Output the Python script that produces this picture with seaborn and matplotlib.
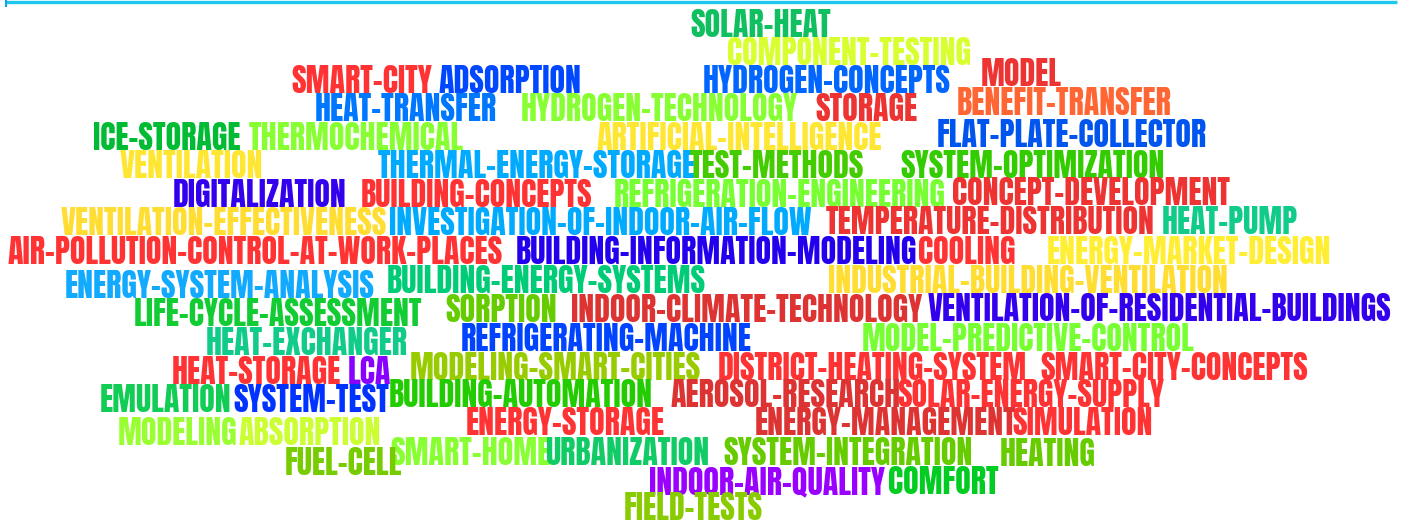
import matplotlib
matplotlib.use("Agg")
import matplotlib.pyplot as plt
import seaborn as sns
from matplotlib.textpath import TextPath
from matplotlib.font_manager import FontProperties

# ---- data: word-cloud terms, their placement (left x, baseline y in px) and colour ----
words = [
    "SOLAR-HEAT", "COMPONENT-TESTING",
    "SMART-CITY", "ADSORPTION", "HYDROGEN-CONCEPTS", "MODEL",
    "HEAT-TRANSFER", "HYDROGEN-TECHNOLOGY", "STORAGE", "BENEFIT-TRANSFER",
    "ICE-STORAGE", "THERMOCHEMICAL", "ARTIFICIAL-INTELLIGENCE", "FLAT-PLATE-COLLECTOR",
    "VENTILATION", "THERMAL-ENERGY-STORAGE", "TEST-METHODS", "SYSTEM-OPTIMIZATION",
    "DIGITALIZATION", "BUILDING-CONCEPTS", "REFRIGERATION-ENGINEERING", "CONCEPT-DEVELOPMENT",
    "VENTILATION-EFFECTIVENESS", "INVESTIGATION-OF-INDOOR-AIR-FLOW", "TEMPERATURE-DISTRIBUTION", "HEAT-PUMP",
    "AIR-POLLUTION-CONTROL-AT-WORK-PLACES", "BUILDING-INFORMATION-MODELING", "COOLING", "ENERGY-MARKET-DESIGN",
    "ENERGY-SYSTEM-ANALYSIS", "BUILDING-ENERGY-SYSTEMS", "INDUSTRIAL-BUILDING-VENTILATION",
    "LIFE-CYCLE-ASSESSMENT", "SORPTION", "INDOOR-CLIMATE-TECHNOLOGY", "VENTILATION-OF-RESIDENTIAL-BUILDINGS",
    "HEAT-EXCHANGER", "REFRIGERATING-MACHINE", "MODEL-PREDICTIVE-CONTROL",
    "HEAT-STORAGE", "LCA", "MODELING-SMART-CITIES", "DISTRICT-HEATING-SYSTEM", "SMART-CITY-CONCEPTS",
    "EMULATION", "SYSTEM-TEST", "BUILDING-AUTOMATION", "AEROSOL-RESEARCH", "SOLAR-ENERGY-SUPPLY",
    "ENERGY-STORAGE", "ENERGY-MANAGEMENT", "SIMULATION",
    "MODELING", "ABSORPTION",
    "SMART-HOME", "URBANIZATION", "SYSTEM-INTEGRATION", "HEATING",
    "FUEL-CELL",
    "INDOOR-AIR-QUALITY", "COMFORT",
    "FIELD-TESTS",
]
x_left = [
    690, 727,
    291, 439, 703, 981,
    315, 521, 815, 957,
    93, 249, 597, 937,
    120, 378, 690, 900,
    173, 361, 614, 952,
    61, 389, 826, 1162,
    8, 516, 918, 1047,
    65, 387, 828,
    134, 445, 571, 928,
    206, 461, 862,
    172, 348, 410, 718, 1040,
    100, 233, 389, 671, 897,
    466, 755, 1012,
    118, 239,
    390, 545, 723, 1000,
    285,
    649, 888,
    624,
]
y_base = [
    37, 65,
    93, 93, 93, 86,
    121, 121, 121, 115,
    150, 150, 150, 147,
    178, 178, 178, 178,
    207, 207, 207, 205,
    235, 235, 234, 234,
    264, 264, 264, 264,
    298, 293, 293,
    326, 322, 322, 321,
    355, 351, 351,
    384, 384, 380, 380, 380,
    412, 412, 407, 407, 407,
    435, 435, 435,
    445, 445,
    465, 465, 465, 466,
    475,
    494, 494,
    520,
]
colors = [
    "#10c060", "#d8ff30",
    "#ff3333", "#0048ff", "#0066ff", "#ee3333",
    "#0077ff", "#88ff33", "#ee3333", "#ff6633",
    "#00bb33", "#88ff33", "#ffe633", "#0055ee",
    "#ffe633", "#00aaff", "#44cc00", "#33cc00",
    "#3300ee", "#ff3333", "#77ff33", "#ee3333",
    "#ffdd33", "#00aaff", "#ee3333", "#11cc88",
    "#ff3333", "#2200ee", "#ff3333", "#ffee33",
    "#11aaff", "#00cc77", "#ffdd33",
    "#11cc33", "#66cc00", "#dd3333", "#3300ee",
    "#11cc88", "#0044ff", "#77ff33",
    "#ff3333", "#8800ff", "#99cc00", "#ff3333", "#ff3333",
    "#11cc55", "#0033ff", "#22cc00", "#dd3333", "#ff3333",
    "#ff3333", "#dd3333", "#ff3333",
    "#99ff33", "#ccff33",
    "#88ff33", "#11cc66", "#66cc00", "#66cc00",
    "#77cc00",
    "#9900ff", "#00cc22",
    "#88cc00",
]

W, H = 1414, 523
sns.set_theme(style="white")
families = ["Anton", "Liberation Sans Narrow", "DejaVu Sans"]
plt.rcParams["font.family"] = families

fig = plt.figure(figsize=(W / 100, H / 100), dpi=100)
ax = fig.add_axes([0, 0, 1, 1])
ax.set_xlim(0, W)
ax.set_ylim(H, 0)
ax.axis("off")

# font size so that the capital height is ~27.4 px
fp = FontProperties(family=families)
cap = TextPath((0, 0), "H", size=100, prop=fp).get_extents().height
size_pt = 27.4 / cap * 100 * 72 / 100

for w, x, y, c in zip(words, x_left, y_base, colors):
    ax.text(x, y, w, fontproperties=fp, fontsize=size_pt, color=c, ha="left", va="baseline")

# cyan rule at the top with its small left tick
ax.plot([5, 1397], [1.5, 1.5], color="#1ec8f0", lw=2.4, solid_capstyle="butt")
ax.plot([6, 6], [0, 7], color="#1aa0e0", lw=1.5, solid_capstyle="butt")

fig.savefig("out.png", dpi=100)
